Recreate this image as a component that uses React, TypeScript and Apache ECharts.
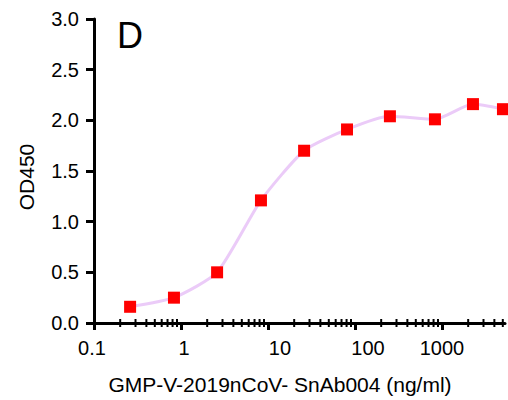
import React, { useEffect, useRef } from "react";
import * as echarts from "echarts";

const concentrations = [0.26, 0.83, 2.6, 8.3, 26, 81, 252, 830, 2270, 5020];
const od450 = [0.16, 0.25, 0.5, 1.21, 1.7, 1.91, 2.04, 2.01, 2.16, 2.11];
const majorTicks = [0.1, 1, 10, 100, 1000];
const majorLabels = ["0.1", "1", "10", "100", "1000"];
const minorTicks = [
  0.2, 0.3, 0.4, 0.5, 0.6, 0.7, 0.8, 0.9,
  2, 3, 4, 5, 6, 7, 8, 9,
  20, 30, 40, 50, 60, 70, 80, 90,
  200, 300, 400, 500, 600, 700, 800, 900,
  2000, 3000, 4000, 5000,
];
const yTicks = ["0.0", "0.5", "1.0", "1.5", "2.0", "2.5", "3.0"];
const labelShift = [-2, 3, 12, 13, 0];

const FONT = "'Liberation Sans', Arial, sans-serif";

export default function App() {
  const ref = useRef<HTMLDivElement>(null);
  useEffect(() => {
    if (!ref.current) return;
    document.body.style.margin = "0";
    const chart = echarts.init(ref.current, null, { renderer: "svg" });
    const rich: any = {};
    labelShift.forEach((s, i) => {
      rich["o" + i] = {
        fontFamily: FONT,
        fontSize: 20,
        color: "#000",
        padding: s >= 0 ? [0, 0, 0, 2 * s] : [0, -2 * s, 0, 0],
      };
    });
    chart.setOption({
      animation: false,
      backgroundColor: "#fff",
      grid: { left: 94, right: 3, top: 19, bottom: 77, containLabel: false },
      xAxis: {
        type: "log",
        logBase: 10,
        min: 0.1,
        max: 5300,
        axisLine: { show: true, lineStyle: { color: "#000", width: 3 } },
        axisTick: { show: true, length: 7, lineStyle: { color: "#000", width: 3 } },
        splitLine: { show: false },
        minorTick: { show: false },
        axisLabel: {
          margin: 15,
          showMaxLabel: false,
          formatter: (v: number) => {
            const i = majorTicks.findIndex((m) => Math.abs(Math.log10(m) - Math.log10(v)) < 1e-6);
            if (i < 0) return "";
            return `{o${i}|${majorLabels[i]}}`;
          },
          rich,
        },
      },
      yAxis: {
        type: "value",
        min: 0,
        max: 3,
        interval: 0.5,
        axisLine: { show: true, lineStyle: { color: "#000", width: 3 } },
        axisTick: { show: true, length: 8, lineStyle: { color: "#000", width: 3 } },
        splitLine: { show: false },
        axisLabel: {
          margin: 15,
          color: "#000",
          fontFamily: FONT,
          fontSize: 20,
          formatter: (v: number) => yTicks[Math.round(v / 0.5)] ?? "",
        },
      },
      series: [
        {
          type: "line",
          silent: true,
          clip: false,
          z: 5,
          data: minorTicks.map((v) => [v, 0]),
          symbol: "rect",
          symbolSize: [2, 8],
          lineStyle: { width: 0, opacity: 0 },
          showAllSymbol: true,
          itemStyle: { color: "#000" },
        },
        {
          type: "line",
          data: concentrations.map((c, i) => [c, od450[i]]),
          smooth: 0.2,
          lineStyle: { color: "#EBCBF8", width: 3 },
          symbol: "rect",
          symbolSize: 12,
          itemStyle: { color: "#FF0000" },
          clip: false,
          z: 6,
        },
      ],
      graphic: [
        {
          type: "text",
          x: 117,
          y: 35,
          style: {
            text: "D",
            fontFamily: FONT,
            fontSize: 36,
            fill: "#000",
            textVerticalAlign: "middle",
          },
        },
        {
          type: "text",
          x: 280,
          y: 384,
          style: {
            text: "GMP-V-2019nCoV- SnAb004 (ng/ml)",
            fontFamily: FONT,
            fontSize: 21,
            fill: "#000",
            textAlign: "center",
            textVerticalAlign: "middle",
          },
        },
        {
          type: "text",
          x: 26,
          y: 177,
          rotation: Math.PI / 2,
          style: {
            text: "OD450",
            fontFamily: FONT,
            fontSize: 21,
            fill: "#000",
            textAlign: "center",
            textVerticalAlign: "middle",
          },
        },
      ],
    });
    return () => chart.dispose();
  }, []);
  return (
    <div
      ref={ref}
      style={{ position: "absolute", left: 0, top: 0, width: 508, height: 400 }}
    />
  );
}
